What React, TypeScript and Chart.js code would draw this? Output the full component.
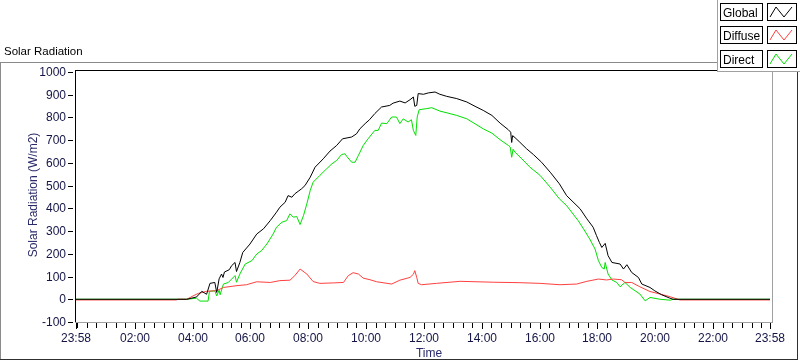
import React, { useEffect, useRef } from 'react';
import { Chart, registerables } from 'chart.js';

Chart.register(...registerables);

// ---- data (x = minutes after 00:00, axis spans 23:58 .. 23:58) ----
const globalTimes = [-2, 228, 248, 259, 269, 276, 286, 290, 295, 300, 303, 306, 316, 321, 328, 331, 338, 344, 359, 373, 387, 401, 414, 421, 432, 438, 446, 452, 459, 466, 473, 484, 494, 511, 525, 539, 551, 570, 580, 587, 598, 607, 618, 632, 649, 656, 670, 681, 691, 698, 701, 705, 708, 719, 729, 743, 753, 767, 788, 809, 826, 843, 861, 878, 895, 900, 902, 904, 909, 919, 933, 947, 964, 982, 1001, 1016, 1044, 1058, 1071, 1078, 1084, 1089, 1096, 1102, 1110, 1127, 1134, 1141, 1151, 1165, 1172, 1189, 1199, 1213, 1230, 1237, 1438];
const globalValues = [0, 0, 10, 35, 22, 70, 74, 30, 90, 111, 96, 120, 130, 148, 162, 122, 162, 206, 243, 287, 310, 346, 383, 405, 427, 456, 449, 464, 475, 486, 500, 537, 581, 618, 652, 677, 706, 714, 728, 750, 773, 790, 817, 846, 853, 863, 872, 864, 878, 890, 849, 853, 905, 902, 908, 912, 902, 893, 883, 868, 849, 831, 809, 775, 746, 735, 690, 720, 711, 691, 662, 637, 603, 559, 508, 456, 398, 354, 317, 280, 250, 228, 246, 192, 162, 155, 133, 152, 118, 96, 67, 52, 37, 20, 5, 0, 0];

const diffuseTimes = [-2, 207, 208, 228, 241, 252, 269, 290, 304, 332, 352, 373, 401, 421, 442, 452, 463, 477, 490, 504, 532, 553, 563, 573, 584, 594, 608, 622, 653, 670, 691, 698, 701, 705, 708, 715, 746, 795, 864, 919, 961, 1002, 1037, 1058, 1082, 1099, 1113, 1130, 1137, 1151, 1168, 1189, 1210, 1231, 1247, 1251, 1438];
const diffuseValues = [-3, -3, 0, 0, 15, 26, 35, 38, 52, 60, 64, 77, 74, 82, 84, 104, 133, 111, 78, 70, 72, 74, 104, 117, 111, 93, 86, 77, 67, 84, 96, 110, 126, 96, 70, 64, 70, 79, 75, 73, 70, 64, 67, 79, 89, 85, 89, 86, 74, 74, 55, 34, 23, 11, 0, -3, -3];

const directTimes = [-2, 228, 248, 255, 272, 275, 286, 290, 295, 297, 304, 314, 321, 328, 331, 338, 349, 363, 373, 383, 394, 407, 414, 425, 435, 442, 449, 456, 463, 470, 477, 484, 490, 504, 518, 529, 539, 549, 556, 560, 570, 577, 584, 594, 604, 618, 625, 632, 643, 653, 663, 670, 677, 687, 694, 698, 703, 706, 710, 726, 736, 753, 770, 788, 809, 826, 843, 861, 878, 895, 899, 902, 905, 909, 923, 940, 961, 982, 1001, 1016, 1040, 1051, 1064, 1075, 1082, 1089, 1094, 1096, 1102, 1110, 1120, 1127, 1137, 1148, 1168, 1179, 1189, 1210, 1231, 1237, 1438];
const directValues = [0, 0, 5, -8, -8, 35, 37, 15, 40, 20, 67, 74, 89, 104, 75, 111, 155, 170, 199, 214, 243, 287, 317, 339, 346, 376, 361, 364, 329, 368, 420, 479, 515, 545, 574, 596, 611, 637, 640, 628, 603, 603, 633, 677, 706, 743, 743, 775, 773, 802, 802, 773, 794, 780, 790, 743, 721, 802, 834, 839, 843, 828, 819, 809, 794, 772, 750, 731, 702, 677, 670, 625, 660, 647, 618, 581, 545, 493, 442, 412, 346, 310, 265, 221, 170, 140, 133, 162, 111, 85, 74, 55, 74, 52, 23, -7, 8, 0, -4, 0, 0];

const seriesNames = ['Global', 'Diffuse', 'Direct'];
const seriesColors = ['#000000', '#ff4040', '#00e000'];

const xMin = -2;
const xMax = 1438;
const xTickValues = [-2, 120, 240, 360, 480, 600, 720, 840, 960, 1080, 1200, 1320, 1438];
const xTickLabels = ['23:58', '02:00', '04:00', '06:00', '08:00', '10:00', '12:00', '14:00', '16:00', '18:00', '20:00', '22:00', '23:58'];
const xMinorStep = 20;
const yMin = -100;
const yMax = 1000;
const yTickValues = [-100, 0, 100, 200, 300, 400, 500, 600, 700, 800, 900, 1000];

const chartTitle = 'Solar Radiation';
const xTitle = 'Time';
const yTitle = 'Solar Radiation (W/m2)';

const FONT = "'Liberation Sans', Arial, sans-serif";
const TICK_COLOR = '#141446';
const TITLE_COLOR = '#2a2a6a';

const toPoints = (t: number[], v: number[]) => t.map((x, i) => ({ x, y: v[i] }));

const decorPlugin = {
  id: 'decor',
  beforeDraw(chart: any) {
    const ctx = chart.ctx as CanvasRenderingContext2D;
    const W = chart.width, H = chart.height;
    const xs = chart.scales.x, ys = chart.scales.y;
    const ca = chart.chartArea;
    ctx.save();
    ctx.fillStyle = '#ffffff';
    ctx.fillRect(0, 0, W, H);

    // outer panel
    ctx.fillStyle = '#8a8a8a';
    ctx.fillRect(0, 62, W, 1);
    ctx.fillRect(0, 62, 1, 298);
    ctx.fillStyle = '#303030';
    ctx.fillRect(797, 62, 1, 298);
    ctx.fillRect(0, 359, 798, 1);

    // title
    ctx.fillStyle = '#000000';
    ctx.font = `11.5px ${FONT}`;
    ctx.textAlign = 'left';
    ctx.textBaseline = 'alphabetic';
    ctx.fillText(chartTitle, 4, 55);

    // plot frame
    const fl = Math.round(ca.left) - 1;
    const fr = Math.round(ca.right) + 2;
    ctx.fillStyle = '#000000';
    ctx.fillRect(fl, 70, fr - fl, 1);
    ctx.fillRect(fl, 70, 1, 253);
    ctx.fillStyle = '#a0a0a0';
    ctx.fillRect(fr, 70, 1, 253);
    ctx.fillRect(fl, 322, fr - fl + 1, 1);

    // y ticks
    ctx.font = `12px ${FONT}`;
    ctx.textAlign = 'right';
    ctx.textBaseline = 'middle';
    for (const v of yTickValues) {
      const y = Math.round(ys.getPixelForValue(v));
      ctx.fillStyle = '#000000';
      ctx.fillRect(68, y, 5, 1);
      ctx.fillStyle = TICK_COLOR;
      ctx.fillText(String(v), 66, y + 0.5);
    }

    // x ticks (minor every 20 min)
    ctx.fillStyle = '#000000';
    for (let m = 0; m <= xMax; m += xMinorStep) {
      const x = Math.round(xs.getPixelForValue(m));
      ctx.fillRect(x, 323, 1, 5);
    }
    ctx.textAlign = 'center';
    ctx.textBaseline = 'alphabetic';
    xTickValues.forEach((v, i) => {
      const x = Math.round(xs.getPixelForValue(v));
      ctx.fillStyle = '#000000';
      ctx.fillRect(x, 323, 1, 6);
      ctx.fillStyle = TICK_COLOR;
      ctx.fillText(xTickLabels[i], x, 342);
    });

    // axis titles
    ctx.fillStyle = TITLE_COLOR;
    ctx.font = `12px ${FONT}`;
    ctx.fillText(xTitle, 429, 357);
    ctx.save();
    ctx.translate(37, (ca.top + ca.bottom) / 2 - 2);
    ctx.rotate(-Math.PI / 2);
    ctx.textAlign = 'center';
    ctx.fillText(yTitle, 0, 0);
    ctx.restore();
    ctx.restore();
  },
  afterDraw(chart: any) {
    const ctx = chart.ctx as CanvasRenderingContext2D;
    ctx.save();
    // legend panel
    ctx.fillStyle = '#ffffff';
    ctx.fillRect(718, 0, 82, 71);
    ctx.fillStyle = '#a0a0a0';
    ctx.fillRect(717, 0, 1, 72);
    ctx.fillRect(717, 71, 83, 1);
    ctx.font = `12px ${FONT}`;
    ctx.textAlign = 'left';
    ctx.textBaseline = 'alphabetic';
    seriesNames.forEach((name, i) => {
      const top = 3 + Math.round(i * 23.4);
      ctx.strokeStyle = '#000000';
      ctx.lineWidth = 1;
      ctx.strokeRect(720.5, top + 0.5, 42, 17);
      ctx.strokeRect(767.5, top + 0.5, 29, 17);
      ctx.fillStyle = '#000000';
      ctx.fillText(name, 723, top + 14);
      ctx.strokeStyle = seriesColors[i];
      ctx.beginPath();
      ctx.moveTo(770, top + 14);
      ctx.lineTo(776, top + 4);
      ctx.lineTo(784, top + 14);
      ctx.lineTo(792, top + 4);
      ctx.stroke();
    });
    ctx.restore();
  },
};

export default function App() {
  const ref = useRef<HTMLCanvasElement | null>(null);
  useEffect(() => {
    document.body.style.margin = '0';
    const canvas = ref.current;
    if (!canvas) return;
    const chart = new Chart(canvas, {
      type: 'line',
      data: {
        datasets: [
          { label: seriesNames[0], data: toPoints(globalTimes, globalValues), borderColor: seriesColors[0] },
          { label: seriesNames[1], data: toPoints(diffuseTimes, diffuseValues), borderColor: seriesColors[1] },
          { label: seriesNames[2], data: toPoints(directTimes, directValues), borderColor: seriesColors[2] },
        ].map((d) => ({ ...d, borderWidth: 1, pointRadius: 0, tension: 0, fill: false })),
      },
      options: {
        animation: false,
        responsive: false,
        devicePixelRatio: 1,
        parsing: true,
        layout: { padding: { left: 76, top: 72, right: 30, bottom: 39 } },
        scales: {
          x: { type: 'linear', min: xMin, max: xMax, display: false },
          y: { type: 'linear', min: yMin, max: yMax, display: false },
        },
        plugins: { legend: { display: false }, tooltip: { enabled: false }, title: { display: false } },
        events: [],
      },
      plugins: [decorPlugin],
    });
    return () => chart.destroy();
  }, []);
  return (
    <div style={{ width: 800, height: 361 }}>
      <canvas ref={ref} width={800} height={361} style={{ display: 'block', width: 800, height: 361 }} />
    </div>
  );
}
